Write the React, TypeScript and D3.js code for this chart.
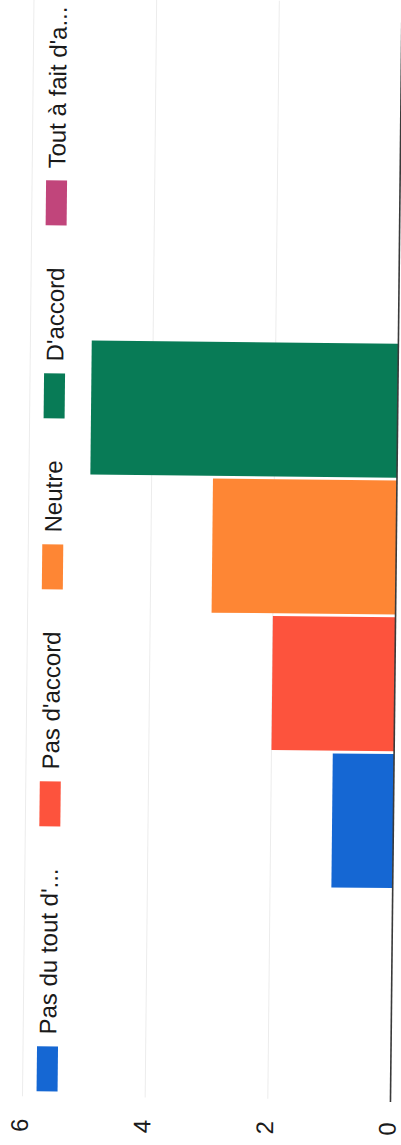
import React, { useMemo } from "react";
import * as d3 from "d3";

const categories = [
  "Pas du tout d'accord",
  "Pas d'accord",
  "Neutre",
  "D'accord",
  "Tout à fait d'accord",
];
const legendLabels = [
  "Pas du tout d'...",
  "Pas d'accord",
  "Neutre",
  "D'accord",
  "Tout à fait d'a...",
];
const values = [1, 2, 3, 5, 0];
const colors = ["#1567d3", "#fd533d", "#fe8634", "#087b56", "#c1457b"];
const tickValues = [0, 2, 4, 6];

const W = 401;
const H = 1145;
const FONT = "'Liberation Sans', Arial, sans-serif";
const FS = 24;

function measure(text: string): number {
  try {
    const c = document.createElement("canvas").getContext("2d");
    if (c) {
      c.font = `${FS}px ${FONT}`;
      return c.measureText(text).width;
    }
  } catch (e) {}
  return text.length * FS * 0.5;
}

export default function App() {
  // value axis runs horizontally (chart is rotated a quarter turn)
  const x = d3.scaleLinear().domain([0, 6]).range([396, 28]);
  const y = d3
    .scaleBand<string>()
    .domain(categories)
    .range([886, 205])
    .paddingInner(0.02)
    .paddingOuter(0);

  const plotTop = 0;
  const plotBottom = 1098;

  const legend = useMemo(() => {
    const items: { label: string; color: string; swY: number; txtY: number }[] = [];
    let cur = 1093;
    legendLabels.forEach((lab, i) => {
      const swBottom = cur;
      const swTop = swBottom - 45;
      const txtStart = swTop - 12;
      const w = measure(lab);
      items.push({ label: lab, color: colors[i], swY: swTop, txtY: txtStart });
      cur = txtStart - w - 42;
    });
    return items;
  }, []);

  return (
    <svg
      width={W}
      height={H}
      style={{ position: "absolute", left: 0, top: 0, background: "#fff" }}
      fontFamily={FONT}
    >
      <rect x={0} y={0} width={W} height={H} fill="#fff" />
      <g transform="rotate(0.6 200 572)">
        {/* gridlines */}
        {tickValues
          .filter((t) => t !== 0)
          .map((t) => (
            <line
              key={t}
              x1={x(t)}
              x2={x(t)}
              y1={plotTop}
              y2={plotBottom}
              stroke="#ececec"
              strokeWidth={1}
            />
          ))}
        {/* bars */}
        {categories.map((c, i) => (
          <rect
            key={c}
            x={x(values[i])}
            y={y(c)!}
            width={Math.max(0, x(0) - x(values[i]))}
            height={y.bandwidth()}
            fill={colors[i]}
          />
        ))}
        {/* baseline */}
        <line
          x1={x(0)}
          x2={x(0)}
          y1={plotTop}
          y2={plotBottom + 2}
          stroke="#3a3a3a"
          strokeWidth={1.6}
        />
        {/* tick labels */}
        {tickValues.map((t) => (
          <text
            key={t}
            transform={`translate(${x(t) + 5.5},1127) rotate(-90)`}
            textAnchor="middle"
            fontSize={FS}
            fill="#1a1a1a"
          >
            {t}
          </text>
        ))}
        {/* legend */}
        {legend.map((it) => (
          <g key={it.label}>
            <rect x={42} y={it.swY} width={21} height={45} fill={it.color} />
            <text
              transform={`translate(61,${it.txtY}) rotate(-90)`}
              textAnchor="start"
              fontSize={FS}
              fill="#1a1a1a"
            >
              {it.label}
            </text>
          </g>
        ))}
      </g>
    </svg>
  );
}
